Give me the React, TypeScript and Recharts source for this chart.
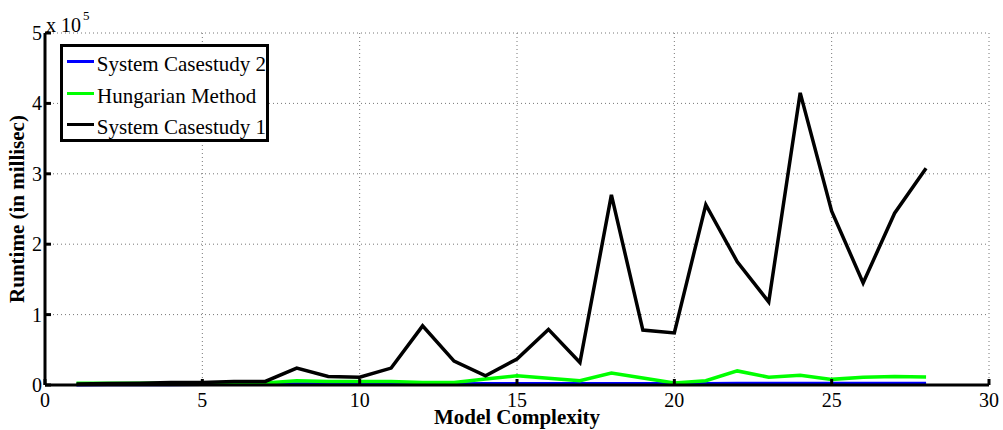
import { LineChart, Line, XAxis, YAxis, CartesianGrid, Legend, Label } from "recharts";

// model complexity (x) and runtime in millisec for each series
const complexity = [1, 2, 3, 4, 5, 6, 7, 8, 9, 10, 11, 12, 13, 14, 15, 16, 17, 18, 19, 20, 21, 22, 23, 24, 25, 26, 27, 28];

const casestudy2 = [500, 600, 700, 800, 900, 1000, 1100, 1300, 1300, 1400, 1400, 1500, 1500, 1600, 1700, 1700, 1800, 1800, 1900, 1900, 1900, 2000, 2000, 2000, 2100, 2100, 2100, 2200];

const hungarian = [2500, 2500, 2500, 2500, 2500, 3000, 3000, 6000, 5000, 5000, 5000, 3500, 3500, 8500, 13000, 9500, 6000, 17000, 10000, 3000, 6000, 20000, 11000, 14000, 8000, 11000, 12000, 11500];

const casestudy1 = [1500, 2000, 2500, 3500, 3500, 5000, 5000, 24000, 12000, 11000, 24000, 84000, 34000, 13000, 37000, 79000, 32000, 270000, 78000, 74000, 256000, 175000, 118000, 415000, 247000, 145000, 244000, 308000];

const seriesNames = ["System Casestudy 2", "Hungarian Method", "System Casestudy 1"];

const xTicks = [0, 5, 10, 15, 20, 25, 30];
const yTicks = [0, 100000, 200000, 300000, 400000, 500000];

const FONT = "'Liberation Serif', 'Times New Roman', serif";

const rows = complexity.map((x, i) => ({
  x,
  cs2: casestudy2[i],
  hung: hungarian[i],
  cs1: casestudy1[i],
}));

// ticks point into the plot, like matlab
function XTick(props: any) {
  const { x, y, payload } = props;
  const axisY = y - 13;
  return (
    <g>
      <line x1={x} x2={x} y1={axisY} y2={axisY - 6} stroke="#000" strokeWidth={3} />
      <text x={x} y={axisY + 22} textAnchor="middle" fontSize={20} fill="#000">
        {payload.value}
      </text>
    </g>
  );
}

function YTick(props: any) {
  const { x, y, payload } = props;
  const axisX = x + 8;
  return (
    <g>
      <line x1={axisX} x2={axisX + 6} y1={y} y2={y} stroke="#000" strokeWidth={3} />
      <text x={axisX - 3} y={y + 7} textAnchor="end" fontSize={20} fill="#000">
        {payload.value / 100000}
      </text>
    </g>
  );
}

function YTitle(props: any) {
  const { x, y, width, height } = props.viewBox;
  return (
    <g>
      <text
        transform={`translate(${x + 24},${y + height / 2}) rotate(-90)`}
        textAnchor="middle"
        fontWeight="bold"
        fontSize={21}
        fill="#000"
      >
        Runtime (in millisec)
      </text>
      <text x={x + width + 1} y={y - 1} fontSize={20} fill="#000">
        x 10
        <tspan dx={2} dy={-12} fontSize={13}>
          5
        </tspan>
      </text>
    </g>
  );
}

function XTitle(props: any) {
  const { x, y, width } = props.viewBox;
  return (
    <text x={x + width / 2} y={y + 39} textAnchor="middle" fontWeight="bold" fontSize={21} fill="#000">
      Model Complexity
    </text>
  );
}

function LegendBox(props: any) {
  const payload = [...(props.payload ?? [])].sort(
    (a: any, b: any) => seriesNames.indexOf(a.value) - seriesNames.indexOf(b.value)
  );
  return (
    <div
      style={{
        border: "3px solid #000",
        background: "#fff",
        width: 209,
        height: 98,
        boxSizing: "border-box",
        fontFamily: FONT,
        fontSize: 21,
        color: "#000",
      }}
    >
      {payload.map((entry: any) => (
        <div key={entry.value} style={{ display: "flex", alignItems: "center", height: 31.5, marginTop: -1, marginBottom: 1 }}>
          <span style={{ display: "inline-block", width: 27, height: 3, background: entry.color, marginLeft: 4, marginRight: 3 }} />
          <span style={{ position: "relative", top: 3, whiteSpace: "nowrap", lineHeight: 1 }}>{entry.value}</span>
        </div>
      ))}
    </div>
  );
}

export default function App() {
  return (
    <div style={{ position: "absolute", left: 0, top: 0, width: 1003, height: 430, background: "#fff", fontFamily: FONT }}>
      <LineChart width={1003} height={430} data={rows} margin={{ top: 33, right: 14, bottom: 0, left: 0 }}>
        <CartesianGrid stroke="#777" strokeDasharray="1 3" />
        <XAxis
          dataKey="x"
          type="number"
          domain={[0, 30]}
          ticks={xTicks}
          height={45}
          tickSize={0}
          tickMargin={13}
          axisLine={{ stroke: "#000", strokeWidth: 3 }}
          tickLine={false}
          tick={XTick}
        >
          <Label content={XTitle} />
        </XAxis>
        <YAxis
          type="number"
          domain={[0, 500000]}
          ticks={yTicks}
          width={45}
          tickSize={0}
          tickMargin={8}
          axisLine={{ stroke: "#000", strokeWidth: 3 }}
          tickLine={false}
          tick={YTick}
        >
          <Label content={YTitle} />
        </YAxis>
        <Legend
          layout="vertical"
          align="center"
          verticalAlign="middle"
          content={LegendBox}
          wrapperStyle={{ position: "absolute", left: 60, top: 44, width: 209, height: 98 }}
        />
        <Line name={seriesNames[0]} dataKey="cs2" type="linear" stroke="#0000ff" strokeWidth={3.5} dot={false} isAnimationActive={false} />
        <Line name={seriesNames[1]} dataKey="hung" type="linear" stroke="#00ff00" strokeWidth={3.5} dot={false} isAnimationActive={false} />
        <Line name={seriesNames[2]} dataKey="cs1" type="linear" stroke="#000000" strokeWidth={3.5} dot={false} isAnimationActive={false} />
      </LineChart>
    </div>
  );
}
